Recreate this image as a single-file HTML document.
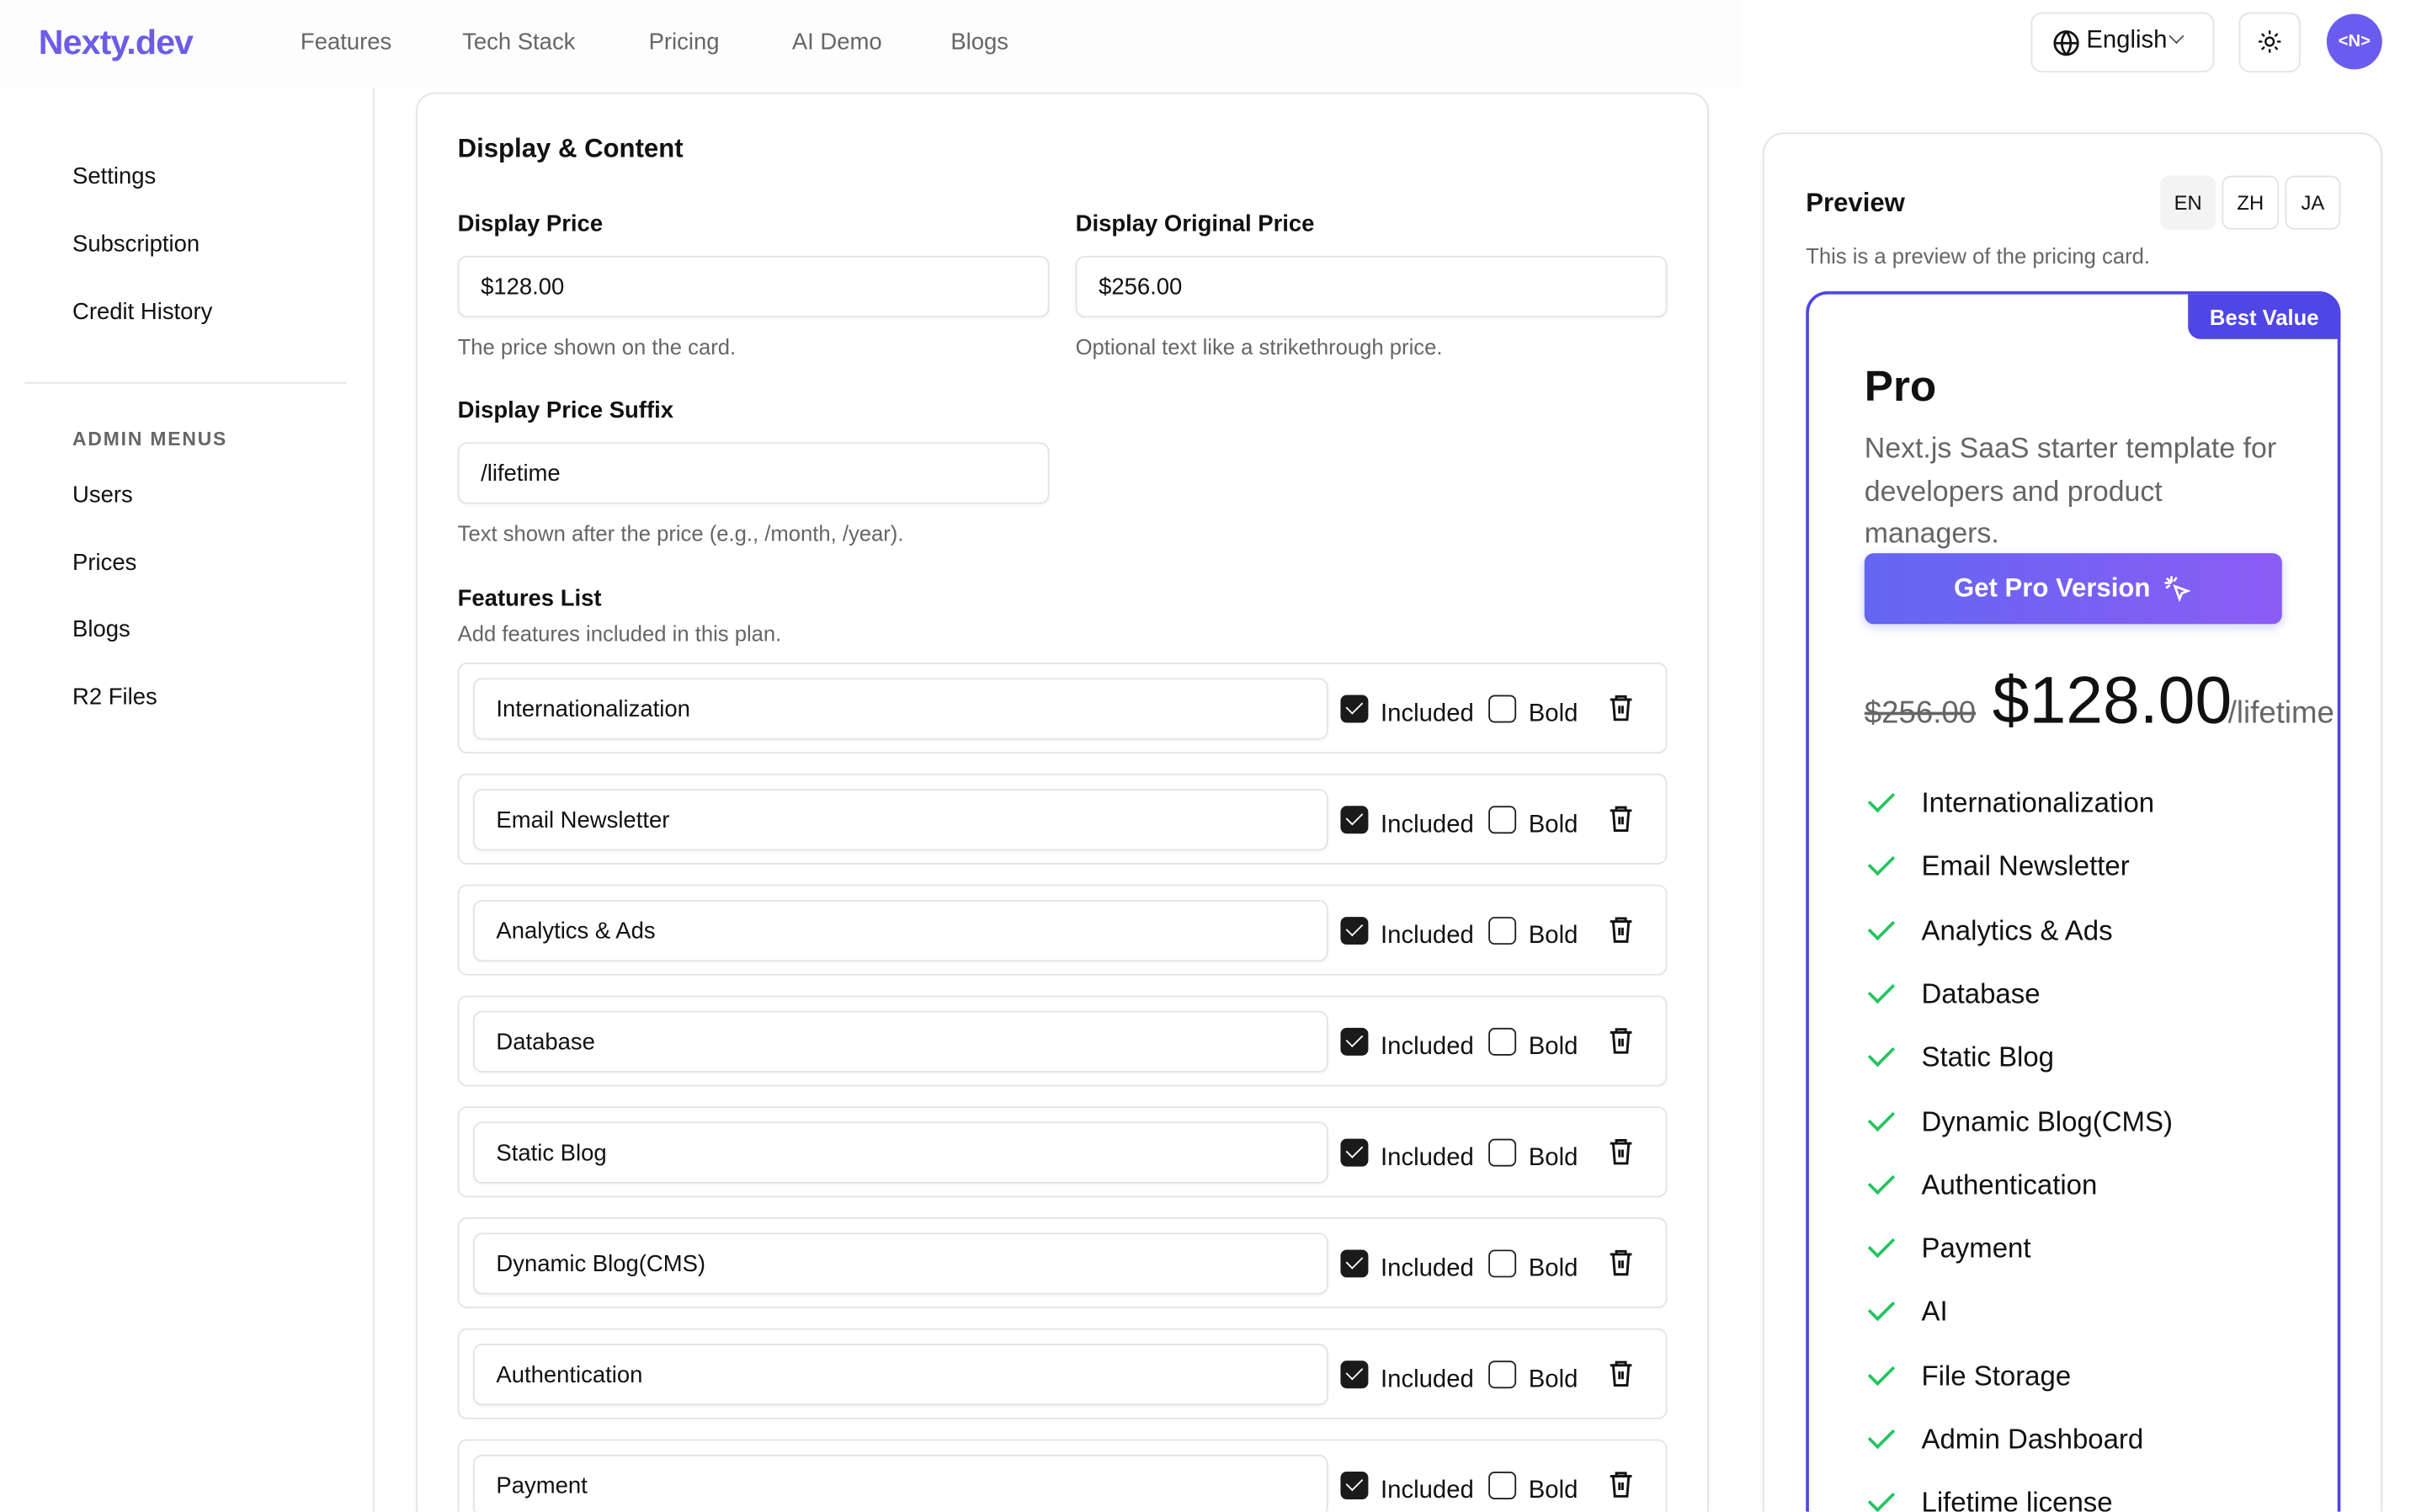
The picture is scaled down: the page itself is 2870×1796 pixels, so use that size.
<!DOCTYPE html>
<html><head><meta charset="utf-8"><style>
*{box-sizing:border-box;margin:0;padding:0}
html,body{width:2870px;height:1796px;overflow:hidden;background:#fff}
#s{position:absolute;left:0;top:0;width:1568px;height:981px;overflow:hidden;transform:scale(1.8304);transform-origin:0 0;font-family:"Liberation Sans",sans-serif;color:#111}
.a{position:absolute;white-space:nowrap}
.nav{font-size:15px;color:#666;top:19px}
.side{font-size:15px;color:#111;left:47px}
.lbl{font-size:15px;font-weight:bold;color:#111}
.inp{position:absolute;border:1px solid #e3e3e3;border-radius:6px;background:#fff;font-size:15px;padding-left:14px;display:flex;align-items:center;box-shadow:0 1px 2px rgba(0,0,0,.04)}
.help{font-size:14px;color:#666}
.row{position:absolute;left:297px;width:785px;height:59px;border:1px solid #e3e3e3;border-radius:6px}
.cb{position:absolute;width:18px;height:18px;border-radius:4px}
.chk{background:#1a1a1a}
.chk:after{content:"";position:absolute;left:6px;top:2px;width:5px;height:9px;border:solid #fff;border-width:0 1.6px 1.6px 0;transform:rotate(45deg)}
.unc{border:1.5px solid #222}
.ft{font-size:18px;color:#111;left:1247px}
.ck{position:absolute;left:1213px;width:16px;height:9px;border:solid #22c55e;border-width:0 0 2px 2px;transform:rotate(-45deg)}
</style></head><body><div id="s">
<div class="a" style="left:0;top:0;width:1130px;height:56px;background:#fdfdfd"></div>
<div class="a" style="left:25px;top:15px;font-size:22.5px;font-weight:bold;color:#6c5ce7;letter-spacing:-0.5px">Nexty.dev</div>
<div class="a nav" style="left:195px">Features</div>
<div class="a nav" style="left:300px">Tech Stack</div>
<div class="a nav" style="left:421px">Pricing</div>
<div class="a nav" style="left:514px">AI Demo</div>
<div class="a nav" style="left:617px">Blogs</div>
<div class="a" style="left:1318px;top:8px;width:119px;height:39px;border:1px solid #e3e3e3;border-radius:7px"></div>
<svg class="a" style="left:1332px;top:19px" width="18" height="18" viewBox="0 0 24 24" fill="none" stroke="#111" stroke-width="2"><circle cx="12" cy="12" r="10"/><path d="M2 12h20M12 2a15 15 0 010 20M12 2a15 15 0 000 20"/></svg>
<div class="a" style="left:1354px;top:18px;font-size:16px">English</div>
<div class="a" style="left:1409px;top:20px;width:7px;height:7px;border:solid #555;border-width:0 1.5px 1.5px 0;transform:rotate(45deg)"></div>
<div class="a" style="left:1453px;top:8px;width:40px;height:39px;border:1px solid #e3e3e3;border-radius:7px"></div>
<svg class="a" style="left:1465px;top:19px" width="16" height="16" viewBox="0 0 24 24" fill="none" stroke="#111" stroke-width="2" stroke-linecap="round"><circle cx="12" cy="12" r="4"/><path d="M12 2v2M12 20v2M2 12h2M20 12h2M4.9 4.9l1.4 1.4M17.7 17.7l1.4 1.4M4.9 19.1l1.4-1.4M17.7 6.3l1.4-1.4"/></svg>
<div class="a" style="left:1510px;top:9px;width:36px;height:36px;border-radius:50%;background:#6b5cf0;color:#fff;font-size:11px;font-weight:bold;text-align:center;line-height:36px">&lt;N&gt;</div>

<div class="a" style="left:242px;top:57px;width:1px;height:930px;background:#e5e5e5"></div>
<div class="a side" style="top:106px">Settings</div>
<div class="a side" style="top:150px">Subscription</div>
<div class="a side" style="top:194px">Credit History</div>
<div class="a" style="left:16px;top:248px;width:209px;height:1px;background:#e5e5e5"></div>
<div class="a" style="left:47px;top:278px;font-size:12.5px;color:#666;letter-spacing:1px;font-weight:bold">ADMIN MENUS</div>
<div class="a side" style="top:313px">Users</div>
<div class="a side" style="top:357px">Prices</div>
<div class="a side" style="top:400px">Blogs</div>
<div class="a side" style="top:444px">R2 Files</div>

<div class="a" style="left:270px;top:60px;width:839px;height:1100px;border:1px solid #e3e3e3;border-radius:12px;box-shadow:0 1px 3px rgba(0,0,0,.05)"></div>
<div class="a" style="left:297px;top:87px;font-size:17px;font-weight:bold">Display &amp; Content</div>
<div class="a lbl" style="left:297px;top:137px">Display Price</div>
<div class="a lbl" style="left:698px;top:137px">Display Original Price</div>
<div class="inp" style="left:297px;top:166px;width:384px;height:40px">$128.00</div>
<div class="inp" style="left:698px;top:166px;width:384px;height:40px">$256.00</div>
<div class="a help" style="left:297px;top:217px">The price shown on the card.</div>
<div class="a help" style="left:698px;top:217px">Optional text like a strikethrough price.</div>
<div class="a lbl" style="left:297px;top:258px">Display Price Suffix</div>
<div class="inp" style="left:297px;top:287px;width:384px;height:40px">/lifetime</div>
<div class="a help" style="left:297px;top:338px">Text shown after the price (e.g., /month, /year).</div>
<div class="a lbl" style="left:297px;top:380px">Features List</div>
<div class="a help" style="left:297px;top:403px">Add features included in this plan.</div>

<div id="rows"></div>
<script>
var names=["Internationalization","Email Newsletter","Analytics & Ads","Database","Static Blog","Dynamic Blog(CMS)","Authentication","Payment"];
var h="";
names.forEach(function(n,i){var y=430+i*72;
h+='<div class="row" style="top:'+y+'px"></div>';
h+='<div class="inp" style="left:307px;top:'+(y+10)+'px;width:555px;height:40px">'+n.replace("&","&amp;")+'</div>';
h+='<div class="cb chk" style="left:870px;top:'+(y+21)+'px"></div>';
h+='<div class="a" style="left:896px;top:'+(y+25)+'px;font-size:16px">Included</div>';
h+='<div class="cb unc" style="left:966px;top:'+(y+21)+'px"></div>';
h+='<div class="a" style="left:992px;top:'+(y+25)+'px;font-size:16px">Bold</div>';
h+='<svg class="a" style="left:1044px;top:'+(y+20)+'px" width="16" height="18" viewBox="0 0 16 18" fill="none" stroke="#111" stroke-width="1.6"><path d="M1 4h14M5 4V2h6v2M3 4l1 13h8l1-13M7 8v5M9 8v5"/></svg>';
});
document.getElementById("rows").innerHTML=h;
</script>

<div class="a" style="left:1144px;top:86px;width:402px;height:1100px;border:1px solid #e3e3e3;border-radius:14px;box-shadow:0 1px 3px rgba(0,0,0,.05)"></div>
<div class="a" style="left:1172px;top:122px;font-size:17px;font-weight:bold">Preview</div>
<div class="a" style="left:1402px;top:114px;width:36px;height:35px;background:#f3f3f3;border-radius:6px;font-size:13px;text-align:center;line-height:35px">EN</div>
<div class="a" style="left:1442px;top:114px;width:37px;height:35px;border:1px solid #e3e3e3;border-radius:6px;font-size:13px;text-align:center;line-height:33px">ZH</div>
<div class="a" style="left:1483px;top:114px;width:36px;height:35px;border:1px solid #e3e3e3;border-radius:6px;font-size:13px;text-align:center;line-height:33px">JA</div>
<div class="a help" style="left:1172px;top:158px">This is a preview of the pricing card.</div>

<div class="a" style="left:1172px;top:189px;width:347px;height:1000px;border:2px solid #4f46e5;border-radius:14px 14px 0 0"></div>
<div class="a" style="left:1420px;top:191px;width:99px;height:29px;background:#4f46e5;border-radius:0 12px 0 8px;color:#fff;font-size:14px;font-weight:bold;text-align:center;line-height:31px">Best Value</div>
<div class="a" style="left:1210px;top:235px;font-size:28px;font-weight:bold">Pro</div>
<div class="a" style="left:1210px;top:277px;font-size:18.5px;color:#666;line-height:27.6px;white-space:normal;width:282px">Next.js SaaS starter template for developers and product managers.</div>
<div class="a" style="left:1210px;top:359px;width:271px;height:46px;border-radius:6px;background:linear-gradient(90deg,#6366f1,#8b5cf6);box-shadow:0 2px 6px rgba(99,102,241,.3);color:#fff;font-size:17px;font-weight:bold;line-height:46px;padding-left:58px">Get Pro Version</div>
<svg class="a" style="left:1404px;top:373px" width="18" height="18" viewBox="0 0 24 24" fill="none" stroke="#fff" stroke-width="2" stroke-linecap="round"><path d="M10 10l11 4-5 2-2 5z"/><path d="M7 2v4M2 7h4M3.5 3.5l2.5 2.5M11 3l-1.5 2M3 11l2-1.5"/></svg>
<div class="a" style="left:1210px;top:452px;font-size:20px;color:#666;text-decoration:line-through">$256.00</div>
<div class="a" style="left:1293px;top:431px;font-size:43px">$128.00</div>
<div class="a" style="left:1446px;top:452px;font-size:20px;color:#666">/lifetime</div>
<div id="fl"></div>
<script>
var f=["Internationalization","Email Newsletter","Analytics & Ads","Database","Static Blog","Dynamic Blog(CMS)","Authentication","Payment","AI","File Storage","Admin Dashboard","Lifetime license"];
var g="";f.forEach(function(n,i){var y=521+i*41.3;
g+='<div class="ck" style="top:'+(y-7)+'px"></div><div class="a ft" style="top:'+(y-10)+'px">'+n.replace("&","&amp;")+'</div>';});
document.getElementById("fl").innerHTML=g;
</script>
</div></body></html>
